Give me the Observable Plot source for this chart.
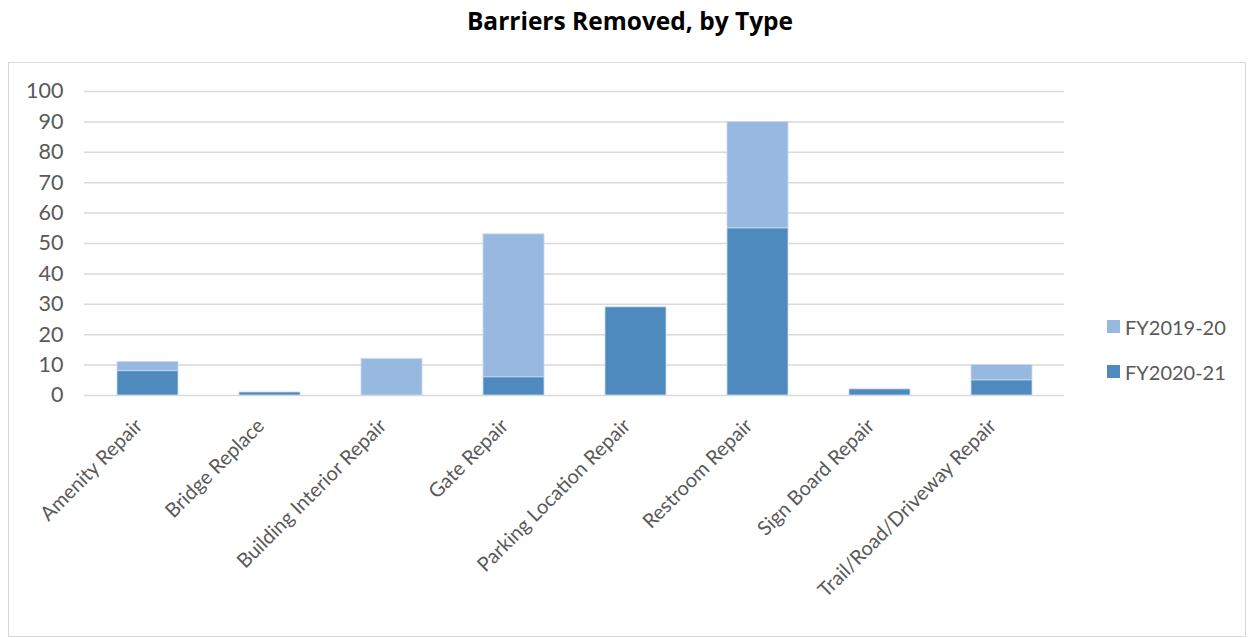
<!DOCTYPE html>
<html>
<head>
<meta charset="utf-8">
<script src="https://cdn.jsdelivr.net/npm/d3@7"></script>
<script src="https://cdn.jsdelivr.net/npm/@observablehq/plot@0.6"></script>
<style>
  html, body { margin: 0; padding: 0; background: #fff; }
  body { width: 1253px; height: 638px; position: relative; font-family: Lato, "Open Sans", sans-serif; }
  #title { position: absolute; left: 0; top: 4px; width: 1260px; text-align: center; font-family: "Open Sans", sans-serif; font-weight: bold; font-size: 24.5px; color: #000; }
  #box { position: absolute; left: 8px; top: 62px; width: 1236px; height: 573px; border: 1px solid #d9d9d9; }
  #legend { position: absolute; left: 1107px; top: 304px; font-size: 20px; color: #595959; }
  .li { display: flex; align-items: center; height: 45px; }
  .sw { width: 13px; height: 13px; margin-right: 5px; }
</style>
</head>
<body>
<div id="title">Barriers Removed, by Type</div>
<div id="box"></div>
<div id="legend"></div>
<script>
const categories = ["Amenity Repair", "Bridge Replace", "Building Interior Repair", "Gate Repair", "Parking Location Repair", "Restroom Repair", "Sign Board Repair", "Trail/Road/Driveway Repair"];
const fy2019_20 = [3, 0, 12, 47, 0, 35, 0, 5];
const fy2020_21 = [8, 1, 0, 6, 29, 55, 2, 5];
const seriesNames = ["FY2020-21", "FY2019-20"];
const seriesColors = ["#4f8abe", "#98b9df"];
const yTicks = [0, 10, 20, 30, 40, 50, 60, 70, 80, 90, 100];

const rows = [];
categories.forEach((c, i) => {
  rows.push({category: c, series: "FY2020-21", value: fy2020_21[i]});
  rows.push({category: c, series: "FY2019-20", value: fy2019_20[i]});
});

const chart = Plot.plot({
  width: 1236,
  height: 573,
  marginLeft: 75,
  marginRight: 181,
  marginTop: 28,
  marginBottom: 241,
  style: {fontFamily: "Lato, 'Open Sans', sans-serif", fontSize: "20px", color: "#595959", background: "transparent"},
  x: {domain: categories, paddingInner: 0.5, paddingOuter: 0.25, label: null},
  y: {domain: [0, 100], label: null},
  color: {domain: seriesNames, range: seriesColors},
  marks: [
    Plot.gridY(yTicks, {stroke: "#d9d9d9", strokeOpacity: 1, strokeWidth: 1.5}),
    Plot.barY(rows, Plot.stackY({order: seriesNames}, {x: "category", y: "value", fill: "series", stroke: "#c9daef", strokeWidth: 0.8})),
    Plot.axisX({tickSize: 0, tickPadding: 27, tickRotate: -45, fontSize: 20, dx: -9, fill: "#595959"}),
    Plot.axisY(yTicks, {tickSize: 0, tickPadding: 21, fontSize: 21.5, fill: "#595959"})
  ]
});
document.getElementById("box").appendChild(chart);

const legend = document.getElementById("legend");
["FY2019-20", "FY2020-21"].forEach(name => {
  const i = seriesNames.indexOf(name);
  const d = document.createElement("div");
  d.className = "li";
  d.innerHTML = `<div class="sw" style="background:${seriesColors[i]}"></div><span>${name}</span>`;
  legend.appendChild(d);
});
</script>
</body>
</html>
